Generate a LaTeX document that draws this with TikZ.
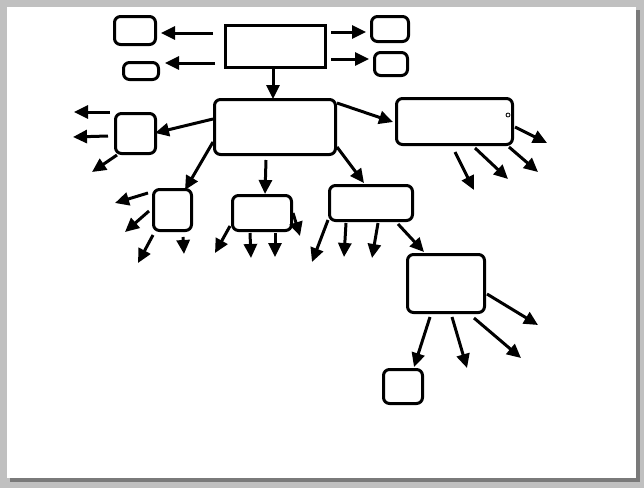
\documentclass[tikz,border=0pt]{standalone}
\usetikzlibrary{arrows.meta,calc}
\definecolor{pagegray}{HTML}{C0C0C0}
\definecolor{shadowgray}{HTML}{7A7A7A}
\tikzset{
  box/.style={draw=black, line width=3pt, rounded corners=6pt, fill=white, inner sep=0pt},
  sharpbox/.style={draw=black, line width=3pt, fill=white, inner sep=0pt},
  arr/.style={line width=3pt, -{Triangle[length=14pt,width=13pt]}},
}
\begin{document}
\begin{tikzpicture}[x=1pt,y=-1pt]
\useasboundingbox (0,0) rectangle (644,488);
\fill[pagegray] (0,0) rectangle (644,488);
\fill[shadowgray] (10,10) rectangle (640,482);
\fill[white] (7,7) rectangle (636,478);

% nodes
\node[sharpbox, minimum width=100pt, minimum height=42pt] (top) at (275.5,46.5) {};
\node[box, minimum width=41pt, minimum height=28pt] (tl1) at (135,30.5) {};
\node[box, minimum width=35pt, minimum height=17pt] (tl2) at (141,71) {};
\node[box, minimum width=37pt, minimum height=25pt] (tr1) at (390,29) {};
\node[box, minimum width=33pt, minimum height=23pt] (tr2) at (391,64) {};
\node[box, minimum width=121pt, minimum height=55pt] (main) at (275,127) {};
\node[box, minimum width=40pt, minimum height=40pt] (L) at (135.5,133.5) {};
\node[box, minimum width=116pt, minimum height=46pt] (H) at (454.5,121.5) {};
\node[box, minimum width=38pt, minimum height=41pt] (C) at (172.5,210) {};
\node[box, minimum width=59pt, minimum height=35pt] (D) at (262,213) {};
\node[box, minimum width=83pt, minimum height=35pt] (E) at (371,203) {};
\node[box, minimum width=77pt, minimum height=58pt] (F) at (446,283.5) {};
\node[box, minimum width=39pt, minimum height=34pt] (G) at (403,386.5) {};
\draw[line width=0.8pt] ($(H.center)+(53.5,-6.5)$) circle (2pt);

% node-to-node connectors
\draw[arr] ($(top.center)+(-62.5,-13.5)$) -- ($(tl1.center)+(26,2.5)$);
\draw[arr] ($(top.center)+(-60.5,16.5)$) -- ($(tl2.center)+(24,-8)$);
\draw[arr] ($(top.center)+(55.5,-14.5)$) -- ($(tr1.center)+(-24,3)$);
\draw[arr] ($(top.center)+(55.5,12.5)$) -- ($(tr2.center)+(-22,-5)$);
\draw[arr] ($(top.center)+(-2.5,22.5)$) -- ($(main.center)+(-2,-28)$);
\draw[arr] ($(main.center)+(-62,-8)$) -- ($(L.center)+(19.5,-0.5)$);
\draw[arr] ($(main.center)+(62,-24)$) -- ($(H.center)+(-61.5,0.5)$);
\draw[arr] ($(main.center)+(-62,15)$) -- ($(C.center)+(12.5,-20)$);
\draw[arr] ($(main.center)+(-9,33)$) -- ($(D.center)+(3,-19)$);
\draw[arr] ($(main.center)+(62,20)$) -- ($(E.center)+(-7,-20)$);
\draw[arr] ($(E.center)+(27,21)$) -- ($(F.center)+(-22,-31.5)$);
\draw[arr] ($(F.center)+(-16,33.5)$) -- ($(G.center)+(11,-19.5)$);

% free ends
\coordinate (l1) at (74,112);
\coordinate (l2) at (73,137);
\coordinate (l3) at (92,172);
\draw[arr] ($(L.center)+(-25.5,-21.5)$) -- (l1);
\draw[arr] ($(L.center)+(-27.5,2.5)$) -- (l2);
\draw[arr] ($(L.center)+(-18.5,21.5)$) -- (l3);

\coordinate (h1) at (547,143);
\coordinate (h2) at (538,172);
\coordinate (h3) at (508,179);
\coordinate (h4) at (474,190);
\draw[arr] ($(H.center)+(60.5,5.5)$) -- (h1);
\draw[arr] ($(H.center)+(54.5,25.5)$) -- (h2);
\draw[arr] ($(H.center)+(20.5,26.5)$) -- (h3);
\draw[arr] ($(H.center)+(0.5,30.5)$) -- (h4);

\coordinate (c1) at (115,203);
\coordinate (c2) at (125,232);
\coordinate (c3) at (138,263);
\coordinate (c4) at (184,254);
\draw[arr] ($(C.center)+(-24.5,-17)$) -- (c1);
\draw[arr] ($(C.center)+(-23.5,1)$) -- (c2);
\draw[arr] ($(C.center)+(-19.5,25)$) -- (c3);
\draw[arr] ($(C.center)+(10.5,27)$) -- (c4);

\coordinate (d1) at (215,253);
\coordinate (d2) at (251,258);
\coordinate (d3) at (275,257);
\coordinate (d4) at (300,236);
\draw[arr] ($(D.center)+(-32,13)$) -- (d1);
\draw[arr] ($(D.center)+(-12,20)$) -- (d2);
\draw[arr] ($(D.center)+(13,20)$) -- (d3);
\draw[arr] ($(D.center)+(31,0)$) -- (d4);

\coordinate (e1) at (312,262);
\coordinate (e2) at (344,257);
\coordinate (e3) at (372,258);
\draw[arr] ($(E.center)+(-43,17)$) -- (e1);
\draw[arr] ($(E.center)+(-25,20)$) -- (e2);
\draw[arr] ($(E.center)+(7,20)$) -- (e3);

\coordinate (f1) at (538,325);
\coordinate (f2) at (521,358);
\coordinate (f3) at (467,368);
\draw[arr] ($(F.center)+(41,10.5)$) -- (f1);
\draw[arr] ($(F.center)+(28,34.5)$) -- (f2);
\draw[arr] ($(F.center)+(6,33.5)$) -- (f3);
\end{tikzpicture}
\end{document}
